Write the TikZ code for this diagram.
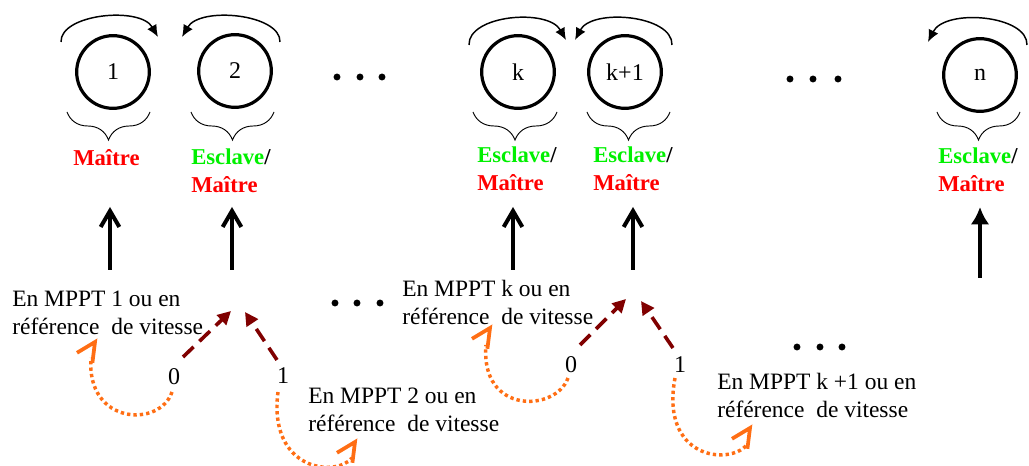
\documentclass[tikz,border=0pt]{standalone}
\usepackage{fontspec}
\setmainfont{Liberation Serif}
\usetikzlibrary{arrows.meta,decorations.pathreplacing,calc}
\definecolor{esgreen}{RGB}{0,240,0}
\definecolor{esred}{RGB}{255,0,0}
\definecolor{selmaroon}{RGB}{128,0,0}
\definecolor{orng}{RGB}{255,110,20}
\begin{document}
\begin{tikzpicture}[x=0.75pt,y=-0.75pt,
  unit/.style={circle,draw,line width=2.4pt,minimum size=54.5pt,inner sep=0pt,font=\fontsize{18}{20}\selectfont},
  lp/.style={line width=1.1pt,-{Latex[length=9pt,width=8pt]}},
  brc/.style={decorate,decoration={brace,mirror,amplitude=21pt},line width=0.7pt},
  rolelab/.style={anchor=base west,inner sep=0pt,align=left,font=\fontsize{17}{21}\selectfont\bfseries},
  uparr/.style={line width=3pt,-{Straight Barb[length=12pt,width=14pt]}},
  uparrn/.style={line width=3.2pt,-{Latex[length=13pt,width=14pt]}},
  modetxt/.style={anchor=base west,inner sep=0pt,align=left,font=\fontsize{17.6}{21}\selectfont},
  bitlab/.style={inner sep=0pt,font=\fontsize{18}{20}\selectfont},
  sel/.style={selmaroon,line width=2.7pt,dash pattern=on 11pt off 6pt,-{Triangle[length=10pt,width=10pt]}},
  back/.style={orng,line width=2.6pt,dash pattern=on 2.5pt off 2.3pt},
  backhead/.style={orng,line width=2.8pt,line join=miter},
  dotf/.style={fill=black,circle,inner sep=0pt,minimum size=5.2pt}
]
\useasboundingbox (0,0) rectangle (1029,466);

% units
\node[unit] (c1) at (113,72) {1};
\node[unit] (c2) at (235,71) {2};
\node[unit] (ck) at (518,72) {k};
\node[unit] (ck1) at (625,72) {k+1};
\node[unit] (cn) at (980,75) {n};

% loop arrows
\draw[lp] (61,42) .. controls (60,14) and (140,6) .. (158,37);
\draw[lp] (280,42) .. controls (281,14) and (200,6) .. (182,37);
\draw[lp] (469,45) .. controls (468,15) and (548,8) .. (566,40);
\draw[lp] (672,45) .. controls (673,15) and (592,8) .. (575,40);
\draw[lp] (1027,45) .. controls (1028,15) and (945,8) .. (928,42);

% braces
\draw[brc] (67,112) -- (150,112);
\draw[brc] (191,112) -- (274,112);
\draw[brc] (473,112) -- (557,112);
\draw[brc] (587,112) -- (670,112);
\draw[brc] (937,112) -- (1020,112);

% role labels (anchor = baseline of last line)
\node[rolelab,text=esred] (r1) at (73,166) {Maître};
\node[rolelab] (r2) at (191,193) {\textcolor{esgreen}{Esclave}/\\\textcolor{esred}{Maître}};
\node[rolelab] (rk) at (477,191) {\textcolor{esgreen}{Esclave}/\\\textcolor{esred}{Maître}};
\node[rolelab] (rk1) at (593,191) {\textcolor{esgreen}{Esclave}/\\\textcolor{esred}{Maître}};
\node[rolelab] (rn) at (938,192) {\textcolor{esgreen}{Esclave}/\\\textcolor{esred}{Maître}};

% up arrows
\coordinate (u1) at (110,270); \coordinate (t1) at (110,207);
\coordinate (u2) at (232,270); \coordinate (t2) at (232,207);
\coordinate (uk) at (513,270); \coordinate (tk) at (513,207);
\coordinate (uk1) at (633,270); \coordinate (tk1) at (633,207);
\coordinate (un) at (980,278); \coordinate (tn) at (980,207);
\draw[uparr] (u1) -- (t1);
\draw[uparr] (u2) -- (t2);
\draw[uparr] (uk) -- (tk);
\draw[uparr] (uk1) -- (tk1);
\draw[uparrn] (un) -- (tn);

% mode texts (anchor = baseline of last line)
\node[modetxt] (m1) at (12,335) {En MPPT 1 ou en\\référence~ de vitesse};
\node[modetxt] (m2) at (308,432) {En MPPT 2 ou en\\référence~ de vitesse};
\node[modetxt] (mk) at (402,325) {En MPPT k ou en\\référence~ de vitesse};
\node[modetxt] (mk1) at (717,418) {En MPPT k +1 ou en\\référence~ de vitesse};

% bit labels
\node[bitlab] (b0a) at (174,377) {0};
\node[bitlab] (b1a) at (283,376) {1};
\node[bitlab] (b0b) at (571,365) {0};
\node[bitlab] (b1b) at (680,365) {1};

% selection arrows
\coordinate (sa0) at (231,311); \coordinate (sa1) at (245,312);
\coordinate (sb0) at (626,299); \coordinate (sb1) at (641,301);
\draw[sel] (183,357) -- (sa0);
\draw[sel] (277,360) -- (sa1);
\draw[sel] (580,345) -- (sb0);
\draw[sel] (673,348) -- (sb1);

% return arrows
\coordinate (ha) at (95,342);
\coordinate (hb) at (355,442);
\coordinate (hc) at (490,328);
\coordinate (hd) at (750,428);
\draw[back] (172,392) .. controls (160,428) and (86,425) .. (91,358);
\draw[backhead] (ha) ++(-18,10.8) -- (ha) -- ++(-2.6,20.8);
\draw[back] (278,392) .. controls (268,470) and (335,478) .. (352,458);
\draw[backhead] (hb) ++(-18,10.8) -- (hb) -- ++(-2.6,20.8);
\draw[back] (568,378) .. controls (556,412) and (480,415) .. (486,345);
\draw[backhead] (hc) ++(-18,10.8) -- (hc) -- ++(-2.6,20.8);
\draw[back] (675,378) .. controls (660,458) and (728,466) .. (747,445);
\draw[backhead] (hd) ++(-18,10.8) -- (hd) -- ++(-2.6,20.8);

% ellipsis dots
\foreach \x/\y in {337/77,360/77,382/77,790/79,813/79,838/79,335/303,357/303,380/303,797/347,820/347,842/347}
  \node[dotf] at (\x,\y) {};
\end{tikzpicture}
\end{document}
